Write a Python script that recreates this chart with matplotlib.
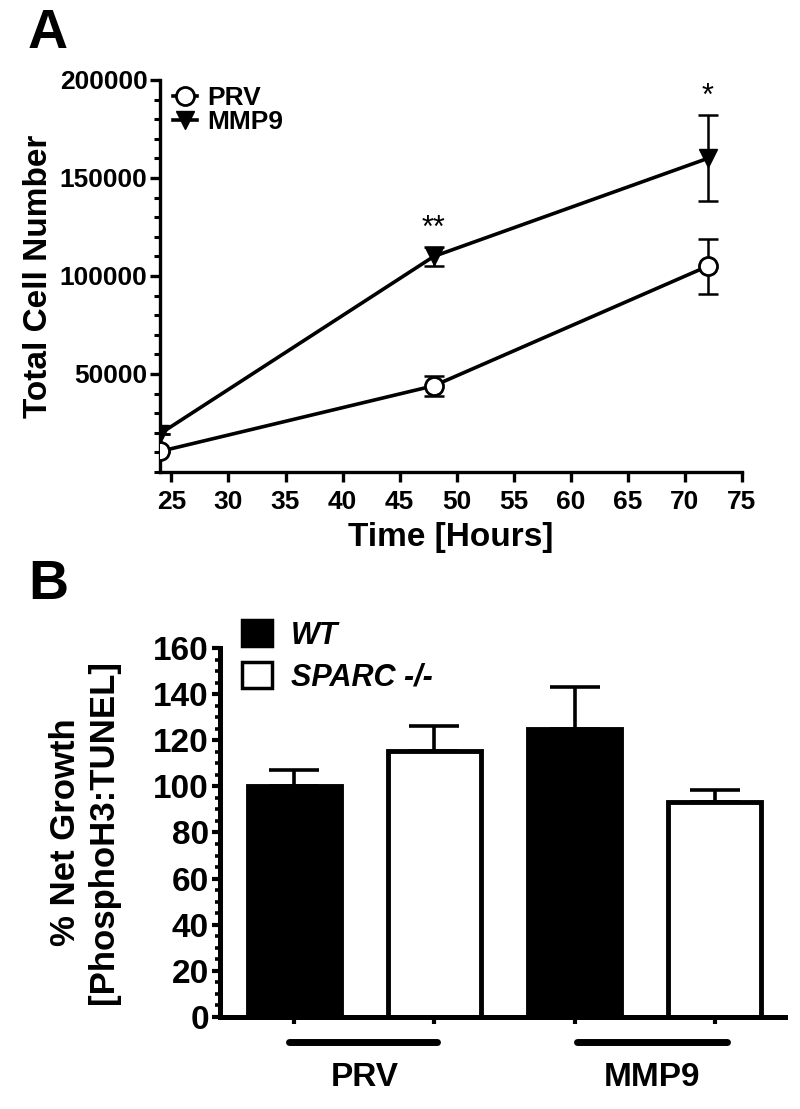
import matplotlib
matplotlib.use("Agg")
from matplotlib import pyplot as plt
from matplotlib.ticker import MultipleLocator
from matplotlib.patches import Rectangle

plt.rcParams['font.family'] = ['Liberation Sans', 'DejaVu Sans']
plt.rcParams['font.weight'] = 'bold'
plt.rcParams['axes.labelweight'] = 'bold'

# panel A data
hours = [24, 48, 72]
prv_cells = [10500, 44000, 105000]
prv_err = [0, 5000, 14000]
mmp9_cells = [19500, 110000, 160000]
mmp9_err = [0, 5000, 22000]
stars = ['', '**', '*']

# panel B data
groups = ['PRV', 'MMP9']
wt_growth = [100, 125]
wt_err = [7, 18]
sparc_growth = [115.5, 93]
sparc_err = [10.5, 5.5]

fig = plt.figure(figsize=(8, 11.09), dpi=100)

# ---- panel A ----
ax1 = fig.add_axes([0.2, 0.5744, 0.7275, 0.3535])
ax1.errorbar(hours, prv_cells, yerr=prv_err, fmt='none', ecolor='black',
             capsize=7, elinewidth=1.8, capthick=1.8, zorder=2)
ax1.errorbar(hours, mmp9_cells, yerr=mmp9_err, fmt='none', ecolor='black',
             capsize=7, elinewidth=1.8, capthick=1.8, zorder=2)
ax1.plot(hours, prv_cells, color='black', lw=2.6, marker='o', ms=13,
         mfc='white', mec='black', mew=2, label='PRV', zorder=3)
ax1.plot(hours, mmp9_cells, color='black', lw=2.6, marker='v', ms=13,
         mfc='black', mec='black', label='MMP9', zorder=3)
for h, m, e, s in zip(hours, mmp9_cells, mmp9_err, stars):
    if s:
        ax1.text(h, m + e + 1500, s, ha='center', va='bottom', fontsize=22,
                 fontweight='normal')

ax1.set_xlim(24, 75)
ax1.set_ylim(0, 200000)
ax1.set_xticks(range(25, 80, 5))
ax1.set_yticks([50000, 100000, 150000, 200000])
ax1.yaxis.set_minor_locator(MultipleLocator(10000))
ax1.spines['top'].set_visible(False)
ax1.spines['right'].set_visible(False)
for sp in ['left', 'bottom']:
    ax1.spines[sp].set_linewidth(2.4)
ax1.tick_params(axis='both', which='major', width=2.4, length=7)
ax1.tick_params(axis='y', which='minor', width=2.2, length=4)
ax1.tick_params(axis='x', labelsize=19, pad=6)
ax1.tick_params(axis='y', labelsize=19, pad=2)
ax1.set_xlabel('Time [Hours]', fontsize=24, labelpad=6)
ax1.set_ylabel('Total Cell Number', fontsize=24, labelpad=4)
leg = ax1.legend(loc='upper left', bbox_to_anchor=(-0.005, 1.025), frameon=False,
                 fontsize=19, handlelength=0.9, handletextpad=0.4,
                 labelspacing=0.0, borderaxespad=0.2)
fig.text(0.035, 0.957, 'A', fontsize=40, fontweight='bold')

# ---- panel B ----
ax2 = fig.add_axes([0.275, 0.083, 0.706, 0.3327])
pos_wt = [0, 2]
pos_sp = [1, 3]
ax2.bar(pos_wt, wt_growth, width=0.66, color='black', edgecolor='black',
        linewidth=3.5, label='WT', zorder=2)
ax2.bar(pos_sp, sparc_growth, width=0.66, color='white', edgecolor='black',
        linewidth=3.5, label='SPARC -/-', zorder=2)
ax2.errorbar(pos_wt, wt_growth, yerr=[[0, 0], wt_err], fmt='none', ecolor='black',
             elinewidth=2.6, capsize=18, capthick=2.6, zorder=1)
ax2.errorbar(pos_sp, sparc_growth, yerr=[[0, 0], sparc_err], fmt='none',
             ecolor='black', elinewidth=2.6, capsize=18, capthick=2.6, zorder=1)

ax2.set_xlim(-0.53, 3.5)
ax2.set_ylim(0, 160)
ax2.set_yticks(range(0, 161, 20))
ax2.yaxis.set_minor_locator(MultipleLocator(5))
ax2.set_xticks([0, 1, 2, 3])
ax2.set_xticklabels([])
ax2.spines['top'].set_visible(False)
ax2.spines['right'].set_visible(False)
for sp in ['left', 'bottom']:
    ax2.spines[sp].set_linewidth(3.6)
ax2.tick_params(axis='y', which='major', width=3.0, length=6, labelsize=24, pad=2)
ax2.tick_params(axis='y', which='minor', width=2.6, length=3.5)
ax2.tick_params(axis='x', which='major', width=3.0, length=5)
ax2.set_ylabel('% Net Growth\n[PhosphoH3:TUNEL]', fontsize=25, labelpad=24,
               linespacing=1.2)

# group underlines and labels
trans = ax2.get_xaxis_transform()
ax2.plot([-0.04, 1.02], [-0.068, -0.068], color='black', lw=5,
         solid_capstyle='round', transform=trans, clip_on=False)
ax2.plot([2.02, 3.09], [-0.068, -0.068], color='black', lw=5,
         solid_capstyle='round', transform=trans, clip_on=False)
ax2.text(0.5, -0.165, groups[0], ha='center', va='center', fontsize=24,
         transform=trans)
ax2.text(2.55, -0.165, groups[1], ha='center', va='center', fontsize=24,
         transform=trans)

# legend as manual squares
h_wt = Rectangle((0, 0), 1, 1, facecolor='black', edgecolor='black', lw=2.5)
h_sp = Rectangle((0, 0), 1, 1, facecolor='white', edgecolor='black', lw=2.5)
leg2 = ax2.legend([h_wt, h_sp], ['WT', 'SPARC -/-'], loc='upper left',
                  bbox_to_anchor=(-0.01, 1.15), frameon=False,
                  handlelength=1.0, handleheight=0.95, handletextpad=0.6,
                  labelspacing=0.35, prop={'style': 'italic', 'weight': 'bold', 'size': 22})
fig.text(0.035, 0.46, 'B', fontsize=40, fontweight='bold')

fig.savefig('out.png', dpi=100)
